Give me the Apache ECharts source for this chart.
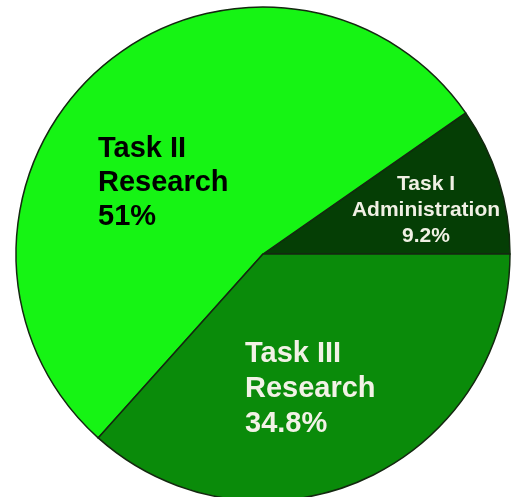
<!DOCTYPE html>
<html>
<head>
<meta charset="utf-8">
<script src="https://cdn.jsdelivr.net/npm/echarts@6/dist/echarts.min.js"></script>
<style>html,body{margin:0;padding:0;background:#fff}#c{width:513px;height:497px}</style>
</head>
<body>
<div id="c"></div>
<script>
var names = ['Task I\nAdministration', 'Task II\nResearch', 'Task III\nResearch'];
var values = [9.2, 51, 34.8];
var colors = ['#053e05', '#16f414', '#0a8b0a'];
var textColors = ['#f0f0e4', '#000000', '#f2f2e6'];
var fontSizes = [21, 29, 29];
var lineHeights = [26, 34, 35];
var aligns = ['center', 'left', 'left'];
var labelPos = [[426, 171], [98, 132], [245, 336]];

var chart = echarts.init(document.getElementById('c'), null, {renderer: 'canvas'});
chart.setOption({
  animation: false,
  backgroundColor: '#ffffff',
  series: [{
    type: 'pie',
    center: [263, 254],
    radius: 247,
    startAngle: 0,
    clockwise: false,
    avoidLabelOverlap: false,
    itemStyle: {borderColor: '#142810', borderWidth: 1.5},
    labelLine: {show: false},
    data: values.map(function (v, i) {
      return {
        name: names[i],
        value: v,
        itemStyle: {color: colors[i]},
        label: {
          show: true,
          position: 'inside',
          formatter: '{b}\n{c}%',
          color: textColors[i],
          fontFamily: 'Liberation Sans',
          fontWeight: 'bold',
          fontSize: fontSizes[i],
          lineHeight: lineHeights[i],
          align: aligns[i],
          verticalAlign: 'top'
        }
      };
    }),
    labelLayout: function (p) {
      var pos = labelPos[p.dataIndex];
      return {x: pos[0], y: pos[1], align: aligns[p.dataIndex], verticalAlign: 'top'};
    }
  }]
});
</script>
</body>
</html>
